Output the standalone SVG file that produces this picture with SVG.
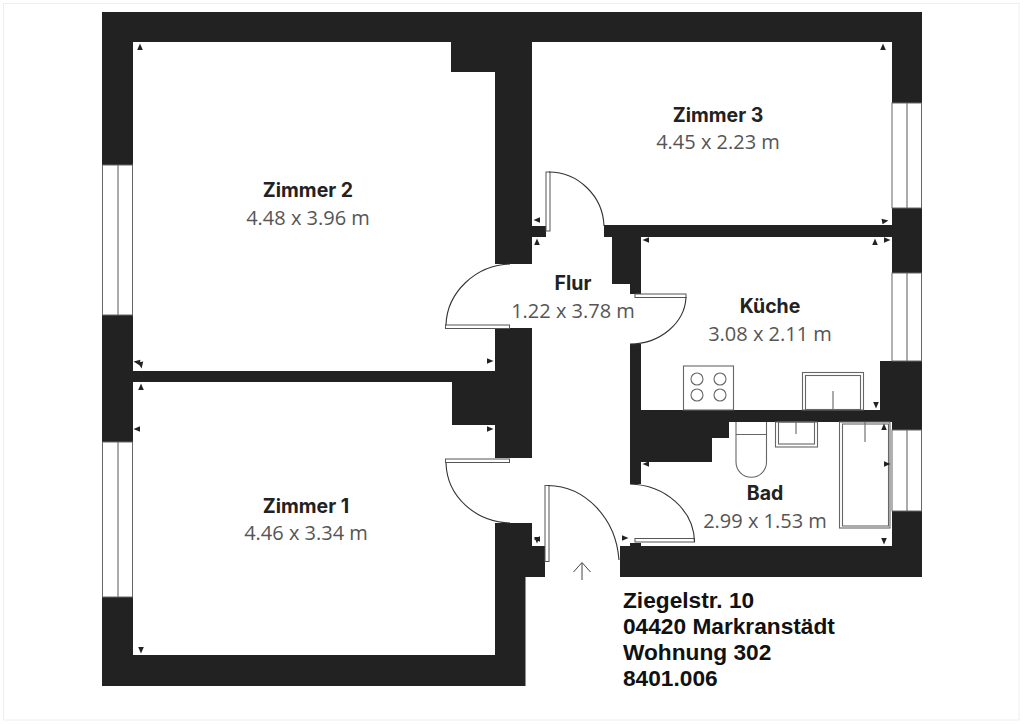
<svg xmlns="http://www.w3.org/2000/svg" width="1024" height="724" viewBox="0 0 1024 724">
<style>
.wall{fill:#222}
.win{fill:#fff;stroke:#666;stroke-width:1}
.fix{fill:none;stroke:#666;stroke-width:1.1}
.leaf{fill:#fff;stroke:#555;stroke-width:1}
.arc{fill:none;stroke:#333;stroke-width:1.1}
.tri{fill:#222}
.name{font-family:Inter,"Liberation Sans",sans-serif;font-weight:700;font-size:19.5px;fill:#222;text-anchor:middle}
.dim{font-family:"Open Sans","Liberation Sans",sans-serif;font-size:20px;fill:#555;text-anchor:middle}
.addr{font-family:"Liberation Sans",Arial,sans-serif;font-weight:700;font-size:22.7px;fill:#111}
</style>
<defs><path id="t" d="M0-3.5L2.8 3H-2.8Z"/></defs>
<rect width="1024" height="724" fill="#fff"/>
<rect x="3.5" y="3.5" width="1015.5" height="716.5" fill="none" stroke="#eee" stroke-width="1"/>
<g id="walls">
<path class="wall" d="M102 12H922V42H102ZM102 42H133V165H102ZM102 315H133V442H102ZM102 597H133V655H495V523H532V546H545V577H525.500V686H102ZM451 42H532V264H495V72H451ZM532 226H546V237H532ZM495 328H532V458H495V425H452V382H133V371H495ZM892 42H922V103H892ZM892 208H922V273H892ZM880 361H922V430H892V410H880ZM892 511H922V577H620V546H630V543H641V546H892ZM604 225H892V237H641V294H630V284H612V237H604ZM630 344H641V410H892V422H729V438H712V462H641V484H630Z"/>
</g>
<g id="windows">
<rect class="win" x="102.500" y="165" width="30" height="150"/><path class="fix" d="M118 165V315"/>
<rect class="win" x="102.500" y="442" width="30" height="155"/><path class="fix" d="M118 442V597"/>
<rect class="win" x="892" y="103" width="29.500" height="105"/><path class="fix" d="M907 103V208"/>
<rect class="win" x="892" y="273" width="29.500" height="88"/><path class="fix" d="M907 273V361"/>
<rect class="win" x="892" y="430" width="29.500" height="81"/><path class="fix" d="M907 430V511"/>
</g>
<g id="doors">
<rect class="leaf" x="546" y="172" width="4" height="59"/><path class="arc" d="M549 172C578 172 603 196 604 226"/>
<rect class="leaf" x="445.500" y="325" width="64" height="3.500"/><path class="arc" d="M446 325C447 292 476 265 510 264"/>
<rect class="leaf" x="445.500" y="459" width="64" height="3.500"/><path class="arc" d="M446 463C447 497 476 522 510 523"/>
<rect class="leaf" x="635" y="294" width="51" height="3.500"/><path class="arc" d="M686 297C685 323 660 344 630 344"/>
<rect class="leaf" x="635" y="538.500" width="59.500" height="3.500"/><path class="arc" d="M694.500 542C694 510 665 485 630 484"/>
<rect class="leaf" x="545" y="485.500" width="4" height="76"/><path class="arc" d="M548 485.500C585 486 616 518 619 560"/>
</g>
<g id="entry"><path fill="none" stroke="#444" stroke-width="1" d="M582 580V563M573.500 572L582 562.500L590.500 572"/></g>
<g id="fixtures">
<rect class="fix" x="683.500" y="366" width="50" height="44"/>
<circle class="fix" cx="697" cy="379" r="6"/><circle class="fix" cx="720" cy="379" r="6"/><circle class="fix" cx="697" cy="395" r="6"/><circle class="fix" cx="720" cy="395" r="6"/>
<rect class="fix" x="802.500" y="372.500" width="61" height="37.500"/><rect class="fix" x="805.500" y="375.500" width="55" height="34"/><path class="fix" d="M833 391V410"/>
<rect class="fix" x="775.500" y="422" width="42" height="25"/><rect class="fix" x="778.500" y="422" width="36" height="22"/><path class="fix" d="M796 422V434"/>
<path class="fix" d="M736 422V462A15 15 0 0 0 766.500 462V422M736 434.500H766.500"/>
<rect class="fix" x="839.500" y="422" width="50.500" height="106"/><rect class="fix" x="842.500" y="424" width="46" height="102"/><path class="fix" d="M865 422V442"/>
</g>
<g id="dimension-marks" class="tri">
<use href="#t" transform="translate(140,47)"/>
<use href="#t" transform="translate(137,362) rotate(-80)"/>
<use href="#t" transform="translate(141,365) rotate(170)"/>
<use href="#t" transform="translate(141,387)"/>
<use href="#t" transform="translate(137,429) rotate(-90)"/>
<use href="#t" transform="translate(141,650) rotate(180)"/>
<use href="#t" transform="translate(490,361) rotate(90)"/>
<use href="#t" transform="translate(490,429) rotate(90)"/>
<use href="#t" transform="translate(883,47)"/>
<use href="#t" transform="translate(537,220) rotate(-90)"/>
<use href="#t" transform="translate(537,242)"/>
<use href="#t" transform="translate(885,221) rotate(80)"/>
<use href="#t" transform="translate(875,242)"/>
<use href="#t" transform="translate(887,240) rotate(90)"/>
<use href="#t" transform="translate(646,240) rotate(-90)"/>
<use href="#t" transform="translate(876,405) rotate(180)"/>
<use href="#t" transform="translate(884,427)"/>
<use href="#t" transform="translate(887,464) rotate(90)"/>
<use href="#t" transform="translate(884,541) rotate(180)"/>
<use href="#t" transform="translate(646,464) rotate(-90)"/>
<use href="#t" transform="translate(537,539) rotate(-90)"/>
<use href="#t" transform="translate(537,540) rotate(180)"/>
<use href="#t" transform="translate(625,538) rotate(90)"/>
</g>
<g id="labels">
<text class="name" x="308" y="197">Zimmer 2</text><text class="dim" x="308" y="225">4.48 x 3.96 m</text>
<text class="name" x="306" y="513">Zimmer 1</text><text class="dim" x="306" y="540">4.46 x 3.34 m</text>
<text class="name" x="718" y="122">Zimmer 3</text><text class="dim" x="718" y="149">4.45 x 2.23 m</text>
<text class="name" x="573" y="290">Flur</text><text class="dim" x="573" y="318">1.22 x 3.78 m</text>
<text class="name" x="770" y="313">Küche</text><text class="dim" x="770" y="341">3.08 x 2.11 m</text>
<text class="name" x="765" y="500">Bad</text><text class="dim" x="765" y="528">2.99 x 1.53 m</text>
</g>
<g id="address">
<text class="addr" x="623" y="607.500">Ziegelstr. 10</text>
<text class="addr" x="623" y="633.500">04420 Markranstädt</text>
<text class="addr" x="623" y="660">Wohnung 302</text>
<text class="addr" x="623" y="686">8401.006</text>
</g>
</svg>
